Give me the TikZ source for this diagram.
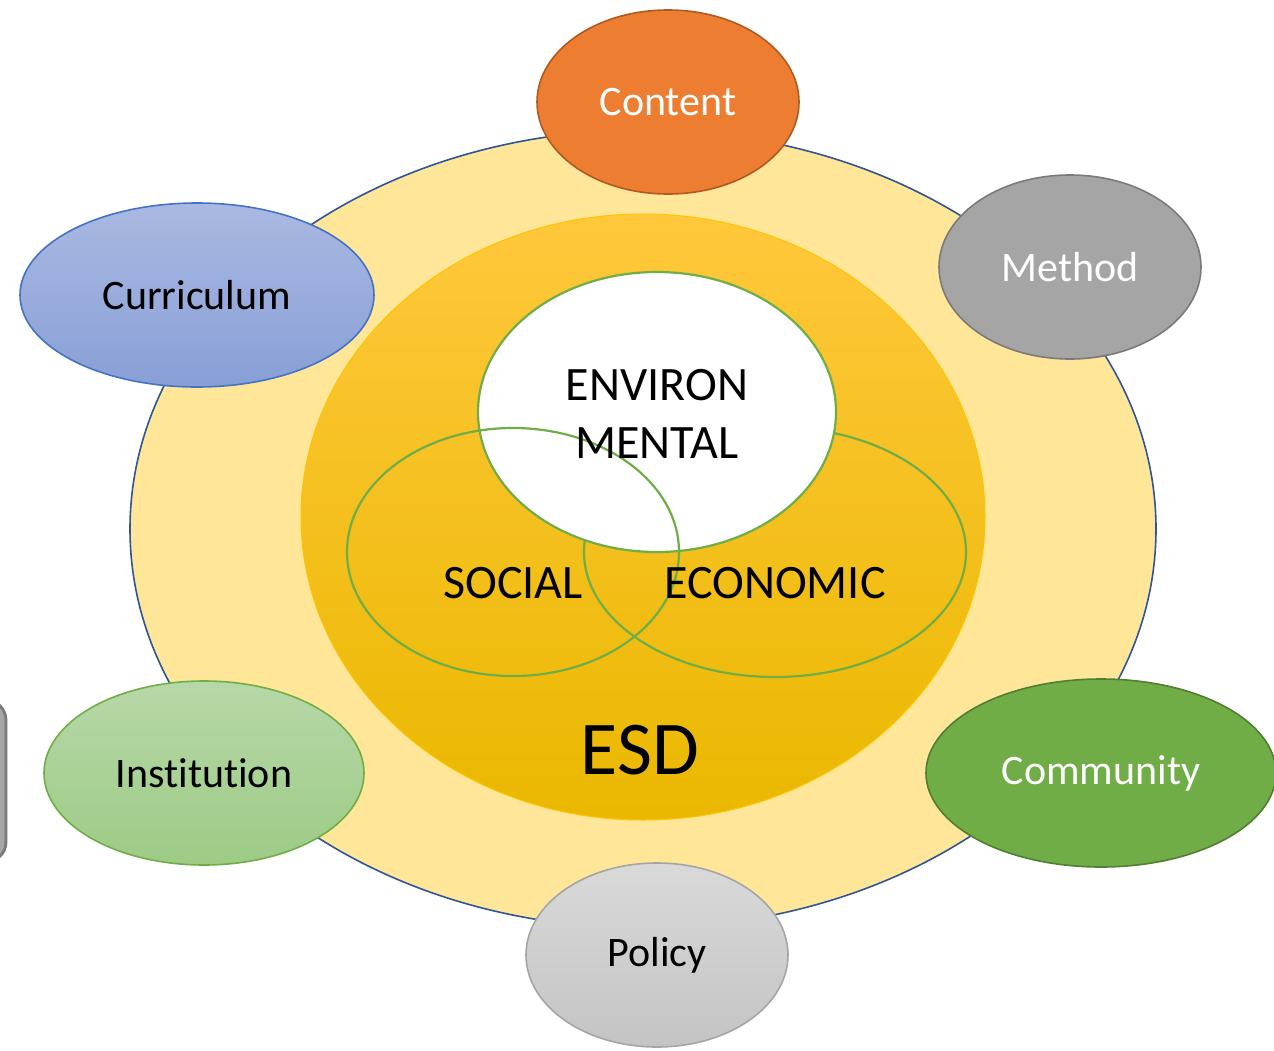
\documentclass[tikz,border=0pt]{standalone}
\usepackage{fontspec}
\setmainfont{Carlito}[RawFeature=-liga]
\usetikzlibrary{shapes.geometric}

\definecolor{ringfill}{HTML}{FFE699}
\definecolor{ringline}{HTML}{2F5597}
\definecolor{venngreen}{HTML}{70AD47}
\definecolor{contentorange}{HTML}{ED7D31}
\definecolor{contentline}{HTML}{AE5A21}
\definecolor{methodgrey}{HTML}{A5A5A5}
\definecolor{methodline}{HTML}{7A7A7A}
\definecolor{currtop}{HTML}{AAB9E2}
\definecolor{currbottom}{HTML}{889FD6}
\definecolor{currline}{HTML}{4472C4}
\definecolor{insttop}{HTML}{B7D8A9}
\definecolor{instbottom}{HTML}{9DCB85}
\definecolor{commline}{HTML}{507E32}
\definecolor{policytop}{HTML}{D9D9D9}
\definecolor{policybottom}{HTML}{C4C4C4}
\definecolor{esdtop}{HTML}{FFC83C}
\definecolor{esdmid}{HTML}{FFC400}
\definecolor{esdbottom}{HTML}{EAB800}

\begin{document}
\begin{tikzpicture}[x=0.5pt,y=-0.5pt]
  \tikzstyle{satellite}=[ellipse, draw, line width=0.8pt, inner sep=0pt, minimum width=131pt, minimum height=92pt, font=\fontsize{21}{25}\selectfont]
  \tikzstyle{vennset}=[ellipse, draw=venngreen, line width=1.1pt, inner sep=0pt]
  \tikzstyle{vennlabel}=[font=\fontsize{24}{29}\selectfont, align=center]

  \useasboundingbox (0,0) rectangle (1274,1050);
  \clip (0,0) rectangle (1274,1050);

  % Background rings
  \node[ellipse, draw=ringline, fill=ringfill, line width=0.8pt, minimum width=513pt, minimum height=399pt] (ring) at (643,529) {};
  \node[ellipse, draw=esdmid, line width=0.5pt, top color=esdtop, middle color=esdmid, bottom color=esdbottom, minimum width=342pt, minimum height=303pt] (esd) at (643,517) {};

  % Venn sets
  \node[vennset, minimum width=191pt, minimum height=125pt] (economic) at (775,552) {};
  \node[vennset, fill=white, minimum width=179pt, minimum height=140pt] (environ) at (657,412) {};
  \node[vennset, minimum width=166pt, minimum height=124pt] (social) at (513,552) {};

  \node[vennlabel] (environlabel) at (657,414) {ENVIRON\\MENTAL};
  \node[vennlabel] (sociallabel) at (513,583) {SOCIAL};
  \node[vennlabel] (economiclabel) at (775,583) {ECONOMIC};
  \node[font=\fontsize{38}{44}\selectfont] (esdlabel) at (640,750) {ESD};

  % Satellite nodes
  \node[satellite, draw=contentline, fill=contentorange, text=white] (content) at (668,102) {Content};
  \node[satellite, draw=methodline, fill=methodgrey, text=white] (method) at (1070,267) {Method};
  \node[satellite, draw=currline, top color=currtop, bottom color=currbottom, minimum width=177pt] (curriculum) at (197,295) {Curriculum};
  \node[satellite, draw=venngreen, top color=insttop, bottom color=instbottom, minimum width=160pt] (institution) at (204,773) {Institution};
  \node[satellite, draw=commline, fill=venngreen, text=white, minimum width=175pt, minimum height=94pt] (community) at (1101,773) {Community};
  \node[satellite, draw=methodgrey, top color=policytop, bottom color=policybottom] (policy) at (657,955) {Policy};

  % Box cut off at the left edge
  \node[draw=methodline, fill=methodgrey, line width=1.4pt, rounded corners=10pt, minimum width=58pt, minimum height=81pt] (edgebox) at (-52,781) {};
\end{tikzpicture}
\end{document}
